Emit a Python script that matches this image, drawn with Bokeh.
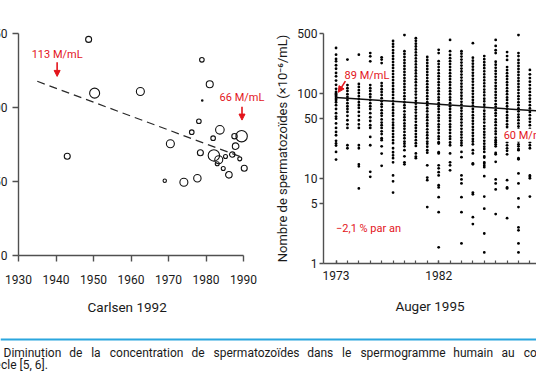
from bokeh.plotting import figure
from bokeh.layouts import column, row
from bokeh.models import Range1d, FixedTicker, PrintfTickFormatter, Label, Arrow, NormalHead, Title
from bokeh.core.properties import value
from bokeh.embed import file_html
from bokeh.resources import INLINE

FONT = "Roboto"
INK = "#1a1a1a"
AXIS_GREY = "#505050"
RED = "#e3141b"
BLUE = "#2ba6de"

# ---------------- Carlsen 1992: mean concentration per study (M/mL) ----------------
carlsen_year = [1948.7, 1950.3, 1962.5, 1978.9, 1981.0, 1978.1, 1976.2, 1983.7, 1970.5,
                1987.6, 1989.5, 1981.9, 1987.9, 1978.5, 1982.1, 1983.4, 1985.2, 1987.0,
                1989.0, 1983.0, 1984.6, 1990.2, 1986.1, 1977.7, 1974.1, 1969.0, 1943.0]
carlsen_conc = [146, 109.7, 110.8, 132.2, 115.7, 90.7, 83.3, 84.9, 75.5,
                80.6, 80.6, 79.3, 73.9, 69.4, 67.6, 64.7, 66.9, 68.2,
                65.3, 62.0, 58.8, 59.0, 54.5, 52.2, 49.5, 50.5, 67.1]
# relative weight of each study (drawn as circle size)
study_weight = [3, 5, 4, 2.3, 3.5, 2.3, 2.3, 4.3, 4,
                2.7, 5.7, 2.3, 3.3, 3, 5.7, 4, 2, 2.7,
                2, 2, 2, 3, 3.3, 3.7, 4, 1.7, 3]
# one very small study
carlsen_small_year = [1979.0]
carlsen_small_conc = [104.7]

# fitted trend, labelled at both ends
carlsen_fit_year = [1940, 1990]
carlsen_fit_conc = [113, 66]
carlsen_fit_from = 1935

carlsen_xticks = [1930, 1940, 1950, 1960, 1970, 1980, 1990]
carlsen_yticks = [0, 50, 100, 150]

# ---------------- Auger 1995: individual donors, Paris (M/mL) ----------------
auger_1973 = [338, 282, 251, 236, 212, 193, 172, 157, 140, 125, 112, 103, 99, 96, 93, 90, 86, 83,
              78, 72, 65, 58, 53, 50, 44, 39, 35, 32, 27.5, 25.6, 24.2, 20.4, 16.6]
auger_1974 = [247, 124, 114, 106, 97, 90, 83, 76, 70, 65, 60, 54, 48, 43, 39, 24.4, 22.5]
auger_1975 = [282, 128, 118, 108, 100, 92, 85, 78, 72, 67, 60, 54, 48, 43, 39, 24.4, 22.5,
              14.6, 13.8, 7.6]
auger_1976 = [295, 270, 236, 124, 114, 106, 97, 90, 83, 76, 70, 65, 58, 52, 47, 42, 39, 30.6,
              24.4, 11.9, 10.4]
auger_1977 = [263, 247, 225, 131, 121, 111, 103, 95, 87, 80, 74, 69, 63, 58, 54, 49, 45, 42, 39,
              35.6, 33, 29.5, 28, 23.7, 19.5, 14.0]
auger_1978 = [409, 377, 350, 318, 295, 272, 251, 231, 213, 197, 181, 167, 154, 142, 131, 121, 111,
              103, 95, 87, 80, 74, 68, 63, 58, 54, 49, 45, 42, 39, 36, 33, 30.6, 28, 25.8, 22.5,
              20.2, 18.6, 17.2, 15.4, 10.8, 9.2, 6.8]
auger_1979 = [480, 310, 288, 265, 244, 226, 208, 192, 177, 163, 150, 139, 128, 118, 109, 100, 92,
              85, 78, 72, 67, 61, 56, 52, 48, 44, 41, 38, 35, 32, 29.5, 27, 25.5, 23.7, 21.4, 18.1,
              15.4, 14.6]
auger_1980 = [440, 410, 380, 352, 325, 300, 277, 255, 235, 217, 200, 184, 170, 157, 145, 134, 123,
              113, 104, 96, 88, 81, 75, 69, 64, 59, 54, 50, 46, 42, 39, 36, 33, 30.5, 28, 25.8, 24,
              19.6, 18, 17.2]
auger_1981 = [265, 245, 226, 208, 192, 177, 163, 150, 138, 127, 117, 108, 100, 92, 85, 78, 72, 66,
              61, 56, 52, 48, 44, 41, 37.5, 34.5, 32, 29.5, 27, 25.5, 23.5, 21.4, 20, 14.2, 10.2,
              9.5, 4.6]
auger_1982 = [322, 295, 237, 219, 202, 186, 171, 158, 146, 134, 124, 114, 105, 97, 89, 83, 76, 70,
              65, 60, 55, 51, 47, 43, 40, 37, 34, 31, 29, 26.5, 25.6, 20.2, 19.6, 14.2, 13.1, 11.8,
              10.8, 8.3, 7.8, 6.0, 4.0, 1.55]
auger_1983 = [420, 310, 280, 257, 237, 219, 202, 186, 171, 158, 146, 134, 124, 114, 105, 97, 89,
              83, 76, 70, 65, 60, 55, 51, 47, 43, 40, 37, 34, 31, 29, 26.3, 24.4, 19.6, 15.4, 14.2,
              12.4]
auger_1984 = [310, 290, 268, 247, 228, 210, 194, 179, 165, 152, 140, 129, 119, 110, 101, 93, 86,
              79, 73, 67, 62, 57, 53, 49, 45, 41.5, 38, 35, 32.5, 30, 27.7, 26, 24.4, 20.4, 17.7,
              10.8, 9.7, 8.7, 6.0, 4.0, 1.72]
auger_1985 = [385, 260, 240, 221, 204, 188, 173, 160, 147, 136, 125, 115, 106, 98, 90, 83, 77, 71,
              65, 60, 55, 51, 47, 43.5, 40, 37, 34, 31.5, 29, 27, 25, 21.4, 19.6, 15, 14.6, 6.8,
              6.5, 3.5, 2.9]
auger_1986 = [272, 250, 230, 212, 196, 180, 166, 153, 141, 130, 120, 110, 102, 94, 86, 80, 73, 68,
              62, 57, 53, 49, 45, 41, 38, 35, 32.5, 30, 27.5, 25.5, 23.5, 22, 20.4, 18.1, 17.5,
              15.4, 15, 14.2, 13.5, 10.6, 6.1, 4.4, 2.25, 1.35]
auger_1987 = [420, 357, 318, 295, 233, 215, 198, 182, 168, 155, 143, 132, 121, 112, 103, 95, 88,
              81, 74, 69, 63, 58, 54, 49, 45.5, 42, 38.5, 35.5, 33, 30, 28, 26.5, 25, 23.7, 19.8,
              19.1, 15.6, 9.7, 8.7, 7.4, 3.8]
auger_1988 = [303, 272, 245, 202, 186, 171, 158, 146, 134, 124, 114, 105, 97, 89, 83, 76, 70, 65,
              60, 55, 51, 47, 43, 40, 37, 34, 31, 29, 26.5, 24.4, 22.5, 21, 19.1, 9.5, 7.8, 7.6,
              3.4]
auger_1989 = [480, 295, 272, 245, 226, 208, 192, 177, 163, 150, 139, 128, 118, 109, 100, 92, 85,
              78, 72, 66, 61, 56, 52, 48, 44, 40.5, 37.5, 34.5, 32, 29.5, 27, 25, 23.7, 22, 21.4,
              17.2, 16.7, 11.4, 8.7, 5.8, 4.6, 2.65, 2.45, 1.72, 1.35]
auger_1990 = [187, 166, 150, 136, 124, 113, 103, 94, 86, 79, 72, 66, 60, 55, 50, 46, 42, 38, 35,
              32, 29, 26.5, 24.4, 22.5, 10.8, 10.4, 10, 6.1]

auger_years = list(range(1973, 1991))
auger_columns = [auger_1973, auger_1974, auger_1975, auger_1976, auger_1977, auger_1978,
                 auger_1979, auger_1980, auger_1981, auger_1982, auger_1983, auger_1984,
                 auger_1985, auger_1986, auger_1987, auger_1988, auger_1989, auger_1990]

# exponential trend: 89 M/mL in 1973 down to 60 M/mL in 1992
auger_fit_year = [1973, 1992]
auger_fit_conc = [89, 60]

auger_xticks = [1973, 1982, 1991]
auger_yticks = [1, 5, 10, 50, 100, 500]

caption_line1 = ["Diminution", "de", "la", "concentration", "de", "spermatozoïdes", "dans",
                 "le", "spermogramme", "humain", "au", "cours"]
caption_line2 = "siècle [5, 6]."


def style_axis(ax, size="12px"):
    ax.axis_line_color = AXIS_GREY
    ax.axis_line_width = 1.4
    ax.major_tick_line_color = AXIS_GREY
    ax.major_tick_line_width = 1.4
    ax.minor_tick_line_color = AXIS_GREY
    ax.minor_tick_line_width = 1.2
    ax.major_label_text_font = FONT
    ax.major_label_text_font_size = size
    ax.major_label_text_color = INK
    ax.axis_label_text_font = FONT
    ax.axis_label_text_font_style = "normal"
    ax.axis_label_text_color = INK


def red_label(p, x, y, text, align="center", **kw):
    p.add_layout(Label(x=x, y=y, text=text, text_font=FONT, text_font_size="11px",
                       text_color=RED, text_align=align, text_baseline="middle", **kw))


def red_arrow(p, x0, y0, x1, y1):
    p.add_layout(Arrow(end=NormalHead(size=6, fill_color=RED, line_color=RED, line_width=1),
                       x_start=x0, y_start=y0, x_end=x1, y_end=y1,
                       line_color=RED, line_width=1.6))


# ---------------- top rule ----------------
top = figure(width=536, height=3, x_range=(0, 1), y_range=(0, 1), x_axis_type=None,
             y_axis_type=None, toolbar_location=None, output_backend="svg", min_border=0)
top.background_fill_color = BLUE
top.border_fill_color = BLUE
top.outline_line_color = None
top.grid.visible = False

# ---------------- Carlsen panel ----------------
left = figure(width=294, height=327, x_range=Range1d(1930, 1930 + 250 / 3.75),
              y_range=Range1d(0, 150), min_border_left=40, min_border_right=4,
              min_border_top=30, min_border_bottom=75, toolbar_location=None,
              output_backend="svg", margin=(0, 0, 0, -22), frame_align=False)
left.outline_line_color = None
left.grid.visible = False
style_axis(left.xaxis[0])
style_axis(left.yaxis[0])
left.xaxis.ticker = FixedTicker(ticks=carlsen_xticks, minor_ticks=[])
left.xaxis.bounds = (1930, 1990)
left.xaxis.major_tick_in = 0
left.xaxis.major_tick_out = 6
left.xaxis.major_label_standoff = 13
left.yaxis.ticker = FixedTicker(ticks=carlsen_yticks, minor_ticks=[])
left.yaxis.bounds = (0, 150)
left.yaxis.major_tick_in = 0
left.yaxis.major_tick_out = 6
left.yaxis.major_label_standoff = 5

# panel title under the axis, centred on the 1930-1990 span
left.add_layout(Title(text="Carlsen 1992", align="left", offset=69, vertical_align="top",
                      standoff=24, text_font=FONT, text_font_size="13.5px",
                      text_font_style="normal", text_color=INK), "below")

slope = (carlsen_fit_conc[1] - carlsen_fit_conc[0]) / (carlsen_fit_year[1] - carlsen_fit_year[0])
fit_x = [carlsen_fit_from, carlsen_fit_year[1]]
fit_y = [carlsen_fit_conc[0] + slope * (carlsen_fit_from - carlsen_fit_year[0]), carlsen_fit_conc[1]]
left.line(fit_x, fit_y, line_color="#2a2a2a", line_width=1.2, line_dash="8 5")

left.scatter(carlsen_year, carlsen_conc, size=[2 * w for w in study_weight], marker="circle",
             fill_color=None, line_color="#111111", line_width=1.1)
left.scatter(carlsen_small_year, carlsen_small_conc, size=2.6, marker="circle",
             fill_color="#111111", line_color=None)

red_label(left, 1940.3, 136, f"{carlsen_fit_conc[0]} M/mL")
red_arrow(left, 1940.3, 130.5, 1940.3, 121)
red_label(left, 1989.6, 106.8, f"{carlsen_fit_conc[1]} M/mL")
red_arrow(left, 1989.6, 100.5, 1989.6, 91.5)

# ---------------- Auger panel ----------------
right = figure(width=264, height=327, x_range=Range1d(1971.9, 1990.58), y_range=Range1d(1, 500),
               y_axis_type="log", min_border_left=50, min_border_right=0, min_border_top=30,
               min_border_bottom=67, toolbar_location=None, output_backend="svg",
               frame_align=False)
right.outline_line_color = None
right.grid.visible = False
style_axis(right.xaxis[0])
style_axis(right.yaxis[0])
right.xaxis.ticker = FixedTicker(ticks=auger_xticks, minor_ticks=auger_years)
right.xaxis.major_tick_in = 3
right.xaxis.major_tick_out = 0
right.xaxis.minor_tick_in = 3
right.xaxis.minor_tick_out = 0
right.xaxis.major_label_standoff = 7
right.xaxis.axis_label = "Auger 1995"
right.xaxis.axis_label_text_font_size = "13.5px"
right.xaxis.axis_label_standoff = 15
right.yaxis.ticker = FixedTicker(ticks=auger_yticks, minor_ticks=[])
right.yaxis.formatter = PrintfTickFormatter(format="%d")
right.yaxis.major_tick_in = 0
right.yaxis.major_tick_out = 4
right.yaxis.minor_tick_in = 0
right.yaxis.minor_tick_out = 0
right.yaxis.major_label_standoff = 2
right.yaxis.axis_label = "Nombre de spermatozoïdes (×10⁻⁶/mL)"
right.yaxis.axis_label_text_font_size = "13px"
right.yaxis.axis_label_standoff = 4

dot_x, dot_y = [], []
for yr, vals in zip(auger_years, auger_columns):
    dot_x.extend([yr] * len(vals))
    dot_y.extend(vals)
right.scatter(dot_x, dot_y, size=2.8, marker="circle", fill_color="#000000", line_color=None)
right.line(auger_fit_year, auger_fit_conc, line_color="#111111", line_width=1.5)

red_label(right, 1973.75, 162, f"{auger_fit_conc[0]} M/mL", align="left")
red_arrow(right, 1973.82, 138, 1973.2, 102)
red_label(right, 1987.7, 32, f"{auger_fit_conc[1]} M/mL", align="left",
          background_fill_color="white")
red_label(right, 1973.0, 2.6, "\u22122,1 % par an", align="left")

# ---------------- caption ----------------
cap = figure(width=536, height=56, x_range=Range1d(0, 536), y_range=Range1d(56, 0),
             x_axis_type=None, y_axis_type=None, toolbar_location=None,
             output_backend="svg", min_border=0)
cap.outline_line_color = None
cap.grid.visible = False
cap.line([0, 536], [9, 9], line_color=BLUE, line_width=2.2)
# justified first line: word starts spread evenly over the line width
word_x = [3, 68.7, 90.7, 109.3, 191, 213, 306.7, 341.6, 359.9, 452.8, 501, 523.2]
cap.text(x=word_x, y=[22] * len(caption_line1), text=caption_line1, text_font=value(FONT),
         text_font_size="12px", text_color=INK, text_baseline="middle", text_align="left")
cap.text(x=[-15], y=[34], text=[caption_line2], text_font=value(FONT),
         text_font_size="12px", text_color=INK, text_baseline="middle", text_align="left")

layout = column(top, row(left, right), cap)
open("out.html", "w").write(file_html(layout, INLINE))
